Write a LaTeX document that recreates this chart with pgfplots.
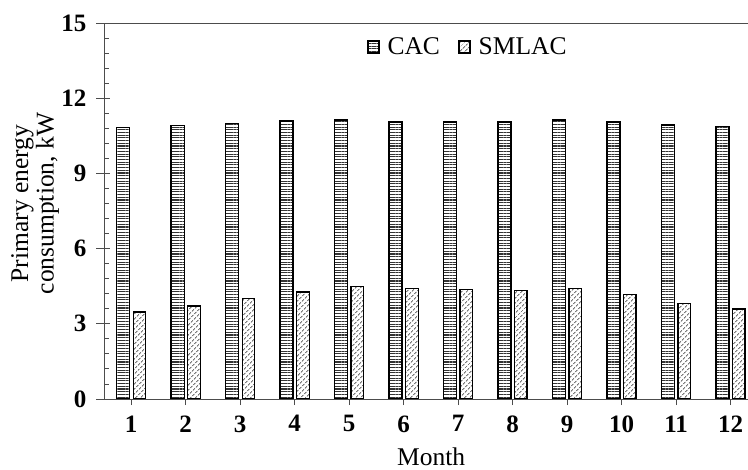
\documentclass[border=0pt]{standalone}
\usepackage{pgfplots}
\pgfplotsset{compat=1.18}
\usepackage{fontspec}
\setmainfont{Liberation Serif}
\usetikzlibrary{patterns.meta}
\begin{document}
\begin{tikzpicture}
\begin{axis}[
  at={(104bp,71bp)}, anchor=south west,
  scale only axis, width=644bp, height=376bp,
  xmin=0.5, xmax=12.32, ymin=0, ymax=15,
  axis y line*=left, axis x line*=box,
  axis line style={gray!60!black, line width=0.9bp},
  xtick={1,...,12}, xtick pos=bottom, xtick align=outside,
  ytick={0,3,...,15}, ytick align=inside,
  minor y tick num=4,
  major tick length=6bp, minor tick length=5.5bp,
  tick style={gray!60!black, line width=0.9bp},
  extra y ticks={0,3,...,15}, extra y tick labels={},
  extra y tick style={tick align=outside, major tick length=8bp},
  ticklabel style={font=\fontsize{25bp}{27bp}\selectfont\bfseries},
  /pgf/number format/assume math mode=true,
  yticklabel style={xshift=-14bp},
  xticklabel style={yshift=-7bp},
  xlabel={Month},
  xlabel style={font=\fontsize{25.5bp}{27bp}\selectfont, at={(axis description cs:0.508,0)}, anchor=center, yshift=-58bp},
  ylabel={Primary energy\\consumption, kW},
  ylabel style={font=\fontsize{25.5bp}{25.5bp}\selectfont, align=center, at={(axis description cs:-0.107,0.52)}, anchor=center},
  legend columns=2,
  legend style={draw=none, fill=none, at={(axis description cs:0.403,0.937)}, anchor=west,
    font=\fontsize{25.5bp}{27bp}\selectfont, column sep=6bp,
    /tikz/every even column/.append style={column sep=16bp}},
  legend image code/.code={\draw[#1, line width=1.8bp] (0bp,-6bp) rectangle (11bp,6bp);},
]
\addplot[ybar, bar width=0.24, bar shift=-0.148, draw=black, line width=1.4bp,
  pattern={Lines[angle=0,distance=2.7bp,line width=1.1bp]}, pattern color=black!80]
  coordinates {(1,10.84) (2,10.92) (3,11.00) (4,11.09) (5,11.13) (6,11.05)
               (7,11.05) (8,11.05) (9,11.13) (10,11.05) (11,10.93) (12,10.88)};
\addlegendentry{CAC}
\addplot[ybar, bar width=0.23, bar shift=0.152, draw=black, line width=1.4bp,
  pattern={Lines[angle=45,distance=3.6bp,line width=0.8bp]}, pattern color=black!80]
  coordinates {(1,3.47) (2,3.71) (3,4.02) (4,4.27) (5,4.48) (6,4.40)
               (7,4.36) (8,4.32) (9,4.40) (10,4.16) (11,3.82) (12,3.59)};
\addlegendentry{SMLAC}
\end{axis}
\pgfresetboundingbox
\useasboundingbox (0,0) rectangle (748bp,470bp);
\end{tikzpicture}
\end{document}
